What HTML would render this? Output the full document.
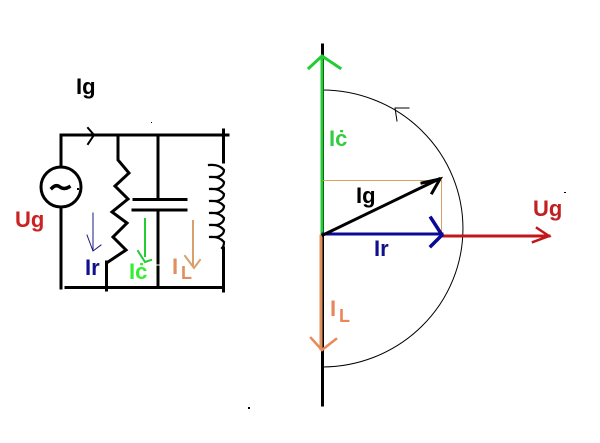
<!DOCTYPE html>
<html><head><meta charset="utf-8"><style>
html,body{margin:0;padding:0;background:#fff}
svg{display:block}
text{font-family:"Liberation Sans",sans-serif;font-weight:bold}
</style></head><body>
<svg width="600" height="443" viewBox="0 0 600 443" xmlns="http://www.w3.org/2000/svg" fill="none" stroke-linecap="square">
<!-- circuit -->
<g stroke="#000" stroke-width="3">
<path d="M61 167V135H228M61 207V288M66 287.500H223"/>
<path d="M223.500 130V162M223.500 248V291"/>
<path d="M118 135V160L129 173L115 186L128 199L112 212L127 223L113 237L126 250L108 262M106.500 262V290"/>
<path d="M158 135V199M158 210V263M158 267V287"/>
<path d="M134 199.500H186M133 210H186"/>
<circle cx="61" cy="187" r="20" fill="#fff"/>
<path d="M88 128L94 135L88 144" stroke-width="2"/>
<path d="M52 188Q56 184 60 187T69 187" stroke-width="3.500"/>
<path d="M209 165Q219 164 224 170Q224 175 217 177L209 177Q219 176 224 182Q224 187 217 189L209 189Q219 188 224 194Q224 199 217 201L209 201Q219 200 224 206Q224 211 217 213L209 213Q219 212 224 218Q224 223 217 225L209 225Q219 224 224 230Q224 235 217 237L209 237Q219 236 224 242Q224 246 222 248" stroke-width="2.200"/>
</g>
<path d="M93 213V250M87 235L93 251L101 245" stroke="#1a1a80" stroke-width="1"/>
<path d="M145 219V256M138 251L145 262L151 260" stroke="#22cc33" stroke-width="2"/>
<path d="M193 221V265M185 256L194 268L200 260" stroke="#d8a06a" stroke-width="2"/>
<!-- phasor -->
<path d="M322.500 45V405" stroke="#000" stroke-width="3"/>
<path d="M322 90A141 138.500 0 0 1 322 367" stroke="#000" stroke-width="1"/>
<path d="M395 108H409M395 108L397 121" stroke="#000" stroke-width="1"/>
<path d="M322 180.500H441.500V235" stroke="#dca060" stroke-width="1"/>
<path d="M322 234V57M309 68L322 56L340 68" stroke="#22cc33" stroke-width="3"/>
<path d="M321 236V349" stroke="#e0905a" stroke-width="3"/>
<path d="M311 338L322 350L336 339" stroke="#e88a5a" stroke-width="2.500"/>
<path d="M443 236H549" stroke="#c01818" stroke-width="3"/>
<path d="M537 228L549 236L533 242" stroke="#c01818" stroke-width="2.500"/>
<path d="M323 234H442" stroke="#0a0a96" stroke-width="3"/>
<path d="M431 218L442 235L431 246" stroke="#0a0a96" stroke-width="3.500"/>
<path d="M323 235L439 179M422 183L440 179L432 193" stroke="#000" stroke-width="3"/>
<!-- dots -->
<g fill="#000"><rect x="151" y="122" width="1" height="1"/><rect x="564" y="192" width="2" height="1"/><rect x="248" y="407" width="2" height="2"/><rect x="77" y="188" width="2" height="2"/></g>
<!-- labels -->
<text x="76" y="94" font-size="22" fill="#000">Ig</text>
<text x="15" y="227" font-size="22" fill="#cc2222">Ug</text>
<text x="85" y="275" font-size="22" fill="#10108c">Ir</text>
<text x="129" y="279" font-size="22" fill="#33ee33">Iċ</text>
<text x="172" y="274" font-size="22" fill="#e09060">I</text>
<text x="181" y="279" font-size="18" fill="#e09060">L</text>
<text x="329" y="146" font-size="22" fill="#33cc44">Iċ</text>
<text x="356" y="203" font-size="22" fill="#000">Ig</text>
<text x="374" y="256" font-size="22" fill="#10108c">Ir</text>
<text x="533" y="216" font-size="22" fill="#c02020">Ug</text>
<text x="330" y="316" font-size="22" fill="#e8885a">I</text>
<text x="339" y="322" font-size="18" fill="#e8885a">L</text>
</svg>
</body></html>
